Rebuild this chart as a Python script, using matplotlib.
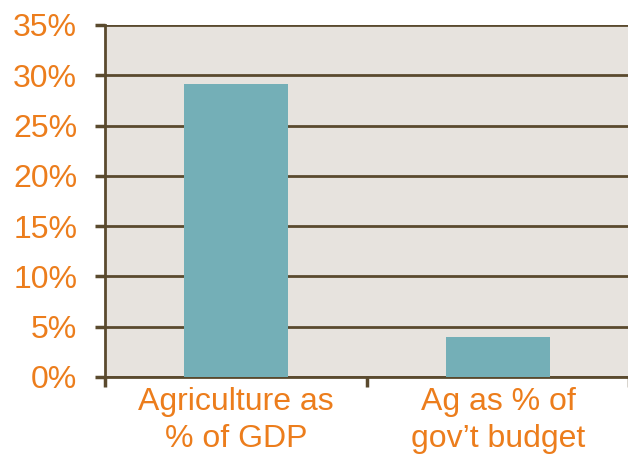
import numpy as np
import matplotlib.pyplot as plt
from matplotlib.ticker import FixedLocator

# data
categories = ['Agriculture as\n% of GDP', 'Ag as % of\ngov\u2019t budget']
values = [29.1, 4.0]
yticks = [0, 5, 10, 15, 20, 25, 30, 35]

orange = '#ec7d1c'
brown = '#5a4a2e'

plt.rcParams['font.family'] = ['Liberation Sans', 'DejaVu Sans']

fig = plt.figure(figsize=(6.28, 4.55), dpi=100)
ax = fig.add_axes([105/628, 78/455, 524/628, 352/455])
ax.set_facecolor('#e7e3de')

x = np.arange(len(categories))
ax.bar(x, values, width=0.4, color='#74afb7', zorder=3)

ax.set_xlim(-0.5, len(categories) - 0.5)
ax.set_ylim(0, 35)
ax.set_yticks(yticks)
ax.set_yticklabels(['%d%%' % v for v in yticks])
ax.yaxis.grid(True, color=brown, linewidth=2)
ax.set_axisbelow(True)

ax.set_xticks(x)
ax.set_xticklabels(categories, linespacing=1.3)
ax.xaxis.set_minor_locator(FixedLocator(np.arange(len(categories) + 1) - 0.5))

ax.tick_params(axis='y', colors=brown, labelcolor=orange, labelsize=23,
               length=7, width=2.5, pad=13)
ax.tick_params(axis='x', which='major', length=0, labelcolor=orange,
               labelsize=23, pad=7)
ax.tick_params(axis='x', which='minor', colors=brown, length=7, width=2.5,
               direction='out')

for side in ['top', 'right']:
    ax.spines[side].set_visible(False)
for side in ['left', 'bottom']:
    ax.spines[side].set_color(brown)
    ax.spines[side].set_linewidth(2)

fig.savefig('out.png', dpi=100)
